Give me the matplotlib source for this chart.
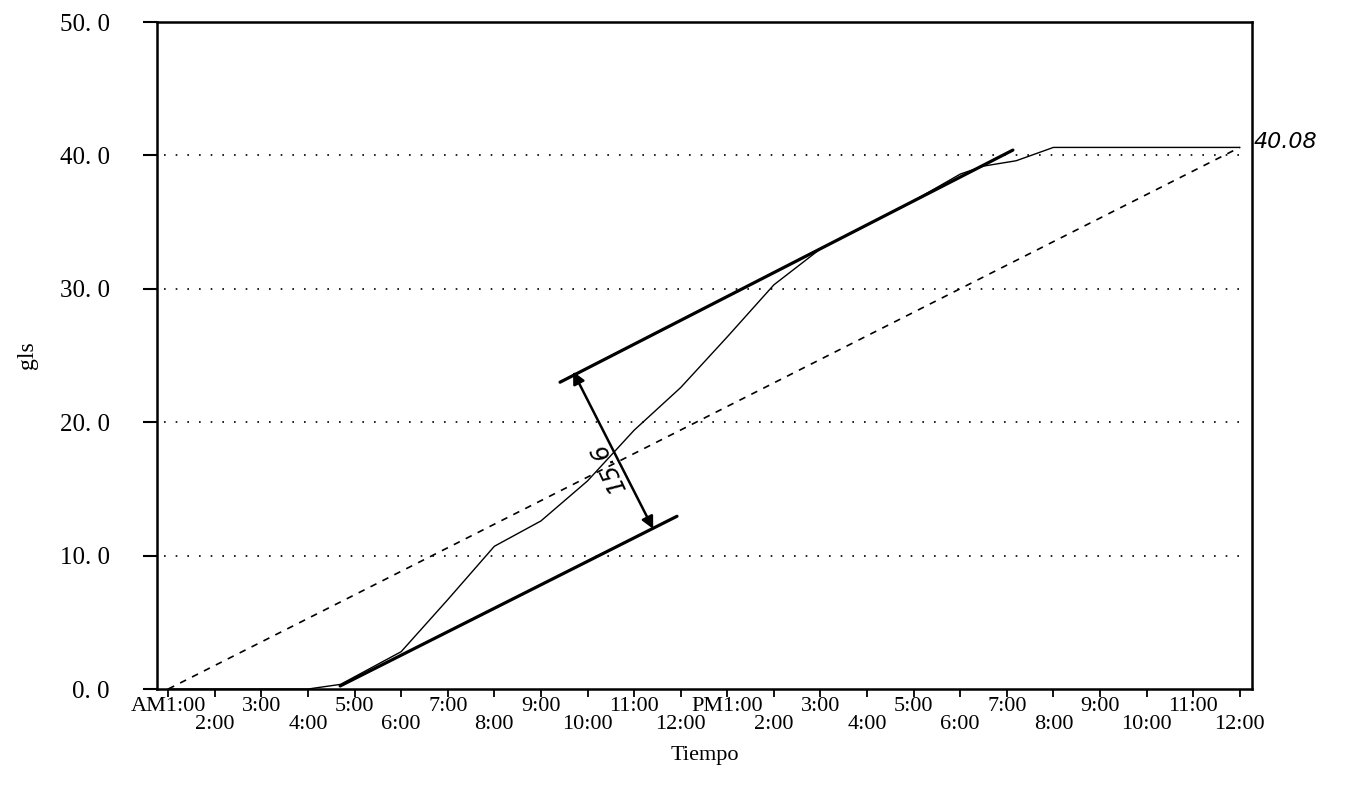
import numpy as np
import matplotlib
matplotlib.use("Agg")
import matplotlib.pyplot as plt

# hour of day: 1 = 1:00 AM ... 24 = 12:00 midnight
hours = [1, 4, 4.7, 6, 7, 8, 9, 10, 11, 12, 13, 14, 15, 16, 17, 18, 18.5, 19.2, 20, 24]
gls = [0, 0, 0.35, 2.8, 6.7, 10.7, 12.6, 15.6, 19.4, 22.6, 26.4, 30.3, 33.0,
       34.8, 36.6, 38.6, 39.2, 39.6, 40.6, 40.6]

# straight reference line (average rate) and hand drawn tangents
ref_x = [1, 24]
ref_y = [0, 40.6]
low_x = [4.69, 11.92]
low_y = [0.23, 12.95]
up_x = [9.41, 19.13]
up_y = [23.0, 40.4]
arrow_start = (9.69, 23.8)
arrow_end = (11.41, 12.0)

y_ticks = [0, 10, 20, 30, 40, 50]
y_labels = ["0. 0", "10. 0", "20. 0", "30. 0", "40. 0", "50. 0"]
odd_ticks = [1, 3, 5, 7, 9, 11, 13, 15, 17, 19, 21, 23]
odd_labels = ["AM1:00", "3:00", "5:00", "7:00", "9:00", "11:00",
              "PM1:00", "3:00", "5:00", "7:00", "9:00", "11:00"]
even_ticks = [2, 4, 6, 8, 10, 12, 14, 16, 18, 20, 22, 24]
even_labels = ["2:00", "4:00", "6:00", "8:00", "10:00", "12:00",
               "2:00", "4:00", "6:00", "8:00", "10:00", "12:00"]

plt.rcParams['font.family'] = ['Liberation Serif', 'DejaVu Serif']

fig = plt.figure(figsize=(13.55, 7.95), dpi=100)
ax = fig.add_axes([0.1159, 0.1333, 0.808, 0.839])

# dotted grid lines (not full width)
for g in [10, 20, 30, 40]:
    ax.plot([0.9, 24.0], [g, g], color='black', lw=1.2, linestyle=(0, (1, 6)))

ax.plot(ref_x, ref_y, color='black', lw=1.2, linestyle=(0, (4, 4)))
ax.plot(hours, gls, color='black', lw=1.0)
ax.plot(low_x, low_y, color='black', lw=2.3, solid_capstyle='round')
ax.plot(up_x, up_y, color='black', lw=2.3, solid_capstyle='round')

ax.annotate("", xy=arrow_start, xytext=arrow_end,
            arrowprops=dict(arrowstyle='<|-|>', color='black', lw=1.8,
                            mutation_scale=18, shrinkA=0, shrinkB=0))
ax.text(10.44, 16.6, "15.6", rotation=115, fontsize=17, style='italic',
        family='DejaVu Sans', ha='center', va='center')
ax.text(24.3, 41.0, "40.08", fontsize=16, style='italic',
        family='DejaVu Sans', ha='left', va='center', clip_on=False)

ax.set_xlim(0.76, 24.26)
ax.set_ylim(0, 50)

ax.set_yticks(y_ticks)
ax.set_yticklabels(y_labels, fontsize=18)
ax.set_xticks(odd_ticks)
ax.set_xticklabels(odd_labels, fontsize=16)
ax.set_xticks(even_ticks, minor=True)
ax.set_xticklabels(even_labels, minor=True, fontsize=16)

ax.tick_params(axis='y', direction='out', length=10, width=1.5, pad=24)
ax.tick_params(axis='x', which='major', direction='out', length=6, width=1.3, pad=0)
ax.tick_params(axis='x', which='minor', direction='out', length=6, width=1.3, pad=13)

for s in ax.spines.values():
    s.set_linewidth(1.8)

ax.set_xlabel("Tiempo", fontsize=16, labelpad=8)
fig.text(0.02, 0.553, "gls", rotation=90, fontsize=17, ha='center', va='center')

fig.savefig("out.png", dpi=100)
